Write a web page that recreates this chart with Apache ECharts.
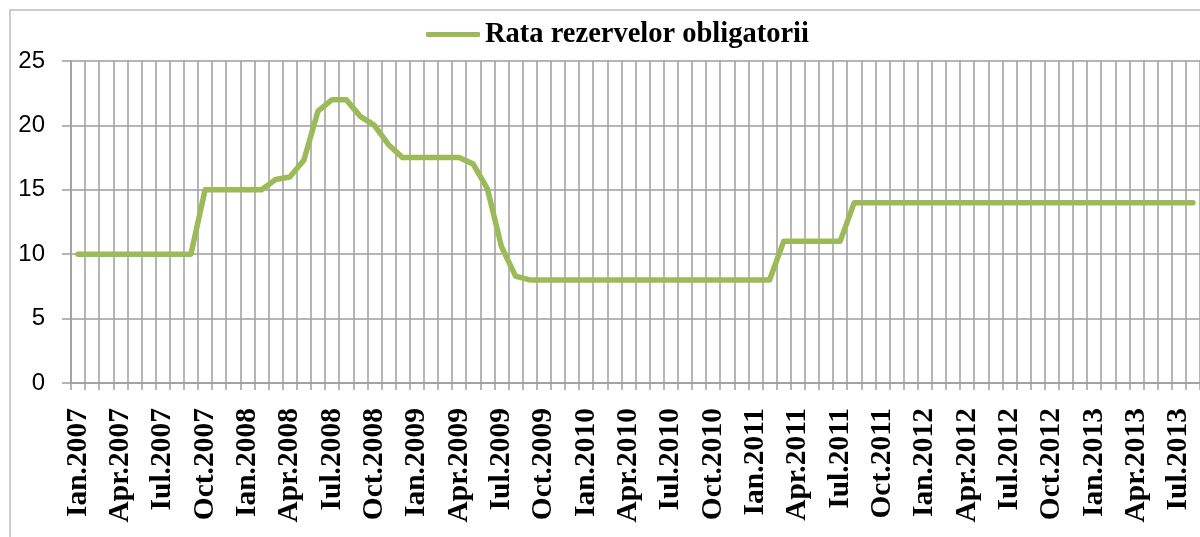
<!DOCTYPE html>
<html>
<head>
<meta charset="utf-8">
<script src="https://cdn.jsdelivr.net/npm/echarts@6/dist/echarts.min.js"></script>
<style>
html,body{margin:0;padding:0;background:#fff;}
#chart{width:1200px;height:537px;}
</style>
</head>
<body>
<div id="chart"></div>
<script>
const seriesName = 'Rata rezervelor obligatorii';
const categories = [
  'Ian.2007','Feb.2007','Mar.2007','Apr.2007','Mai.2007','Iun.2007','Iul.2007','Aug.2007','Sep.2007','Oct.2007','Noi.2007','Dec.2007',
  'Ian.2008','Feb.2008','Mar.2008','Apr.2008','Mai.2008','Iun.2008','Iul.2008','Aug.2008','Sep.2008','Oct.2008','Noi.2008','Dec.2008',
  'Ian.2009','Feb.2009','Mar.2009','Apr.2009','Mai.2009','Iun.2009','Iul.2009','Aug.2009','Sep.2009','Oct.2009','Noi.2009','Dec.2009',
  'Ian.2010','Feb.2010','Mar.2010','Apr.2010','Mai.2010','Iun.2010','Iul.2010','Aug.2010','Sep.2010','Oct.2010','Noi.2010','Dec.2010',
  'Ian.2011','Feb.2011','Mar.2011','Apr.2011','Mai.2011','Iun.2011','Iul.2011','Aug.2011','Sep.2011','Oct.2011','Noi.2011','Dec.2011',
  'Ian.2012','Feb.2012','Mar.2012','Apr.2012','Mai.2012','Iun.2012','Iul.2012','Aug.2012','Sep.2012','Oct.2012','Noi.2012','Dec.2012',
  'Ian.2013','Feb.2013','Mar.2013','Apr.2013','Mai.2013','Iun.2013','Iul.2013','Aug.2013'
];
const values = [
  10,10,10,10,10,10,10,10,10,15,15,15,
  15,15,15.8,16,17.3,21.1,22,22,20.7,20,18.5,17.5,
  17.5,17.5,17.5,17.5,17,15.1,10.6,8.3,8,8,8,8,
  8,8,8,8,8,8,8,8,8,8,8,8,
  8,8,11,11,11,11,11,14,14,14,14,14,
  14,14,14,14,14,14,14,14,14,14,14,14,
  14,14,14,14,14,14,14,14
];
const yMin = 0, yMax = 25, yStep = 5;

const chart = echarts.init(document.getElementById('chart'), null, {renderer: 'canvas'});
const gridColor = '#9e9e9e';
const lineColor = '#9bbb59';
chart.setOption({
  animation: false,
  backgroundColor: '#ffffff',
  graphic: [{
    type: 'rect',
    shape: {x: 10, y: 10, width: 1400, height: 800},
    style: {fill: 'none', stroke: '#bdbdbd', lineWidth: 1.5},
    silent: true,
    z: -1
  }],
  legend: {
    left: 426,
    top: 20,
    padding: 0,
    itemWidth: 54,
    itemHeight: 5,
    itemGap: 5,
    icon: 'roundRect',
    itemStyle: {color: lineColor, borderWidth: 0},
    data: [seriesName],
    textStyle: {
      fontFamily: 'Liberation Serif',
      fontWeight: 'bold',
      fontSize: 28.5,
      color: '#000'
    }
  },
  grid: {left: 71, right: -5, top: 61, bottom: 154, containLabel: false},
  xAxis: {
    type: 'category',
    data: categories,
    boundaryGap: true,
    axisLine: {show: true, lineStyle: {color: gridColor, width: 1.5}},
    axisTick: {show: true, interval: 0, length: 7, lineStyle: {color: gridColor, width: 1.5}},
    splitLine: {show: true, interval: 0, lineStyle: {color: gridColor, width: 1.5}},
    axisLabel: {
      interval: 2,
      rotate: 90,
      margin: 25,
      fontFamily: 'Liberation Serif',
      fontWeight: 'bold',
      fontSize: 29.5,
      color: '#000'
    }
  },
  yAxis: {
    type: 'value',
    min: yMin,
    max: yMax,
    interval: yStep,
    axisLine: {show: true, lineStyle: {color: gridColor, width: 1.5}},
    axisTick: {show: true, length: 9, lineStyle: {color: gridColor, width: 1.5}},
    splitLine: {show: true, lineStyle: {color: gridColor, width: 1.5}},
    axisLabel: {
      margin: 26,
      fontFamily: 'Liberation Sans',
      fontSize: 24,
      color: '#000'
    }
  },
  series: [{
    name: seriesName,
    type: 'line',
    data: values,
    symbol: 'none',
    showSymbol: false,
    smooth: false,
    lineStyle: {color: lineColor, width: 5.5, cap: 'round', join: 'round'},
    itemStyle: {color: lineColor}
  }]
});
</script>
</body>
</html>
